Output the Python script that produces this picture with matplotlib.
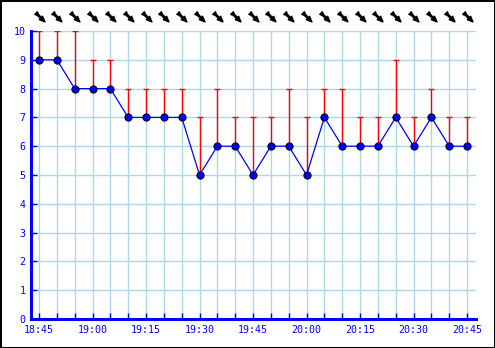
#!/usr/bin/env python3
"""Gust/average chart: 5-minute readings with red max bars and wind arrows."""

import matplotlib
matplotlib.use("Agg")
import matplotlib.pyplot as plt
import numpy as np
from matplotlib.markers import MarkerStyle
from matplotlib.path import Path
from matplotlib.transforms import Affine2D

TIMES = [
    "18:45", "18:50", "18:55", "19:00", "19:05", "19:10", "19:15", "19:20",
    "19:25", "19:30", "19:35", "19:40", "19:45", "19:50", "19:55", "20:00",
    "20:05", "20:10", "20:15", "20:20", "20:25", "20:30", "20:35", "20:40",
    "20:45",
]
AVERAGE = [9, 9, 8, 8, 8, 7, 7, 7, 7, 5, 6, 6, 5, 6, 6, 5, 7, 6, 6, 6, 7, 6, 7, 6, 6]
MAXIMUM = [10, 10, 10, 9, 9, 8, 8, 8, 8, 7, 8, 7, 7, 7, 8, 7, 8, 8, 7, 7, 9, 7, 8, 7, 7]
# wind direction the arrow points to, degrees (all south-east here)
DIRECTION = [-45] * len(TIMES)

BLUE = "#0000ff"
GRID = "#add8e6"


def arrow_marker(angle):
    # paper-plane style arrow: tail fins, thick body, pointed head
    verts = [(-1, -0.3), (-0.6, -0.12), (0.1, -0.12), (0.1, -0.38), (1, 0),
             (0.1, 0.38), (0.1, 0.12), (-0.6, 0.12), (-1, 0.3), (-1, -0.3)]
    codes = [Path.MOVETO] + [Path.LINETO] * 8 + [Path.CLOSEPOLY]
    return MarkerStyle(Path(verts, codes), transform=Affine2D().rotate_deg(angle))


def main():
    fig = plt.figure(figsize=(4.95, 3.48), dpi=100)
    fig.patch.set_facecolor("white")
    fig.patch.set_edgecolor("black")
    fig.patch.set_linewidth(2.0)
    ax = fig.add_axes([0.0626, 0.0833, 0.899, 0.8276])

    x = np.arange(len(TIMES))
    ax.set_xlim(-0.45, len(TIMES) - 0.5)
    ax.set_ylim(0, 10)

    ax.set_xticks(x)
    ax.set_xticklabels([t if i % 3 == 0 else "" for i, t in enumerate(TIMES)])
    ax.set_yticks(range(0, 11))
    ax.grid(True, color=GRID, linewidth=1.0, zorder=0)
    ax.set_axisbelow(True)

    for side in ("top", "right"):
        ax.spines[side].set_visible(False)
    for side in ("left", "bottom"):
        ax.spines[side].set_color(BLUE)
        ax.spines[side].set_linewidth(2.2)
        ax.spines[side].set_zorder(5)
    ax.tick_params(axis="both", direction="in", length=4, width=1.0,
                   color=BLUE, labelcolor=BLUE, labelsize=7.2, pad=4)
    for label in (*ax.get_xticklabels(), *ax.get_yticklabels()):
        label.set_fontfamily("DejaVu Sans Mono")

    # red max bars with top caps
    ax.vlines(x, AVERAGE, MAXIMUM, color="red", linewidth=1.0, zorder=2)
    ax.plot(x, MAXIMUM, linestyle="none", marker="_", markersize=4.5,
            markeredgewidth=1.0, color="red", zorder=2)

    ax.plot(x, AVERAGE, color=BLUE, linewidth=0.9, marker="o", markersize=5.2,
            markerfacecolor=BLUE, markeredgecolor="black", markeredgewidth=0.7,
            zorder=4, clip_on=False)

    # wind direction arrows above the plot
    trans = ax.get_xaxis_transform()
    for xi, ang in zip(x, DIRECTION):
        ax.plot(xi + 0.03, 1.05, marker=arrow_marker(ang), markersize=9.0,
                color="black", linestyle="none", transform=trans, clip_on=False)

    fig.savefig("out.png", dpi=100)


if __name__ == "__main__":
    main()
